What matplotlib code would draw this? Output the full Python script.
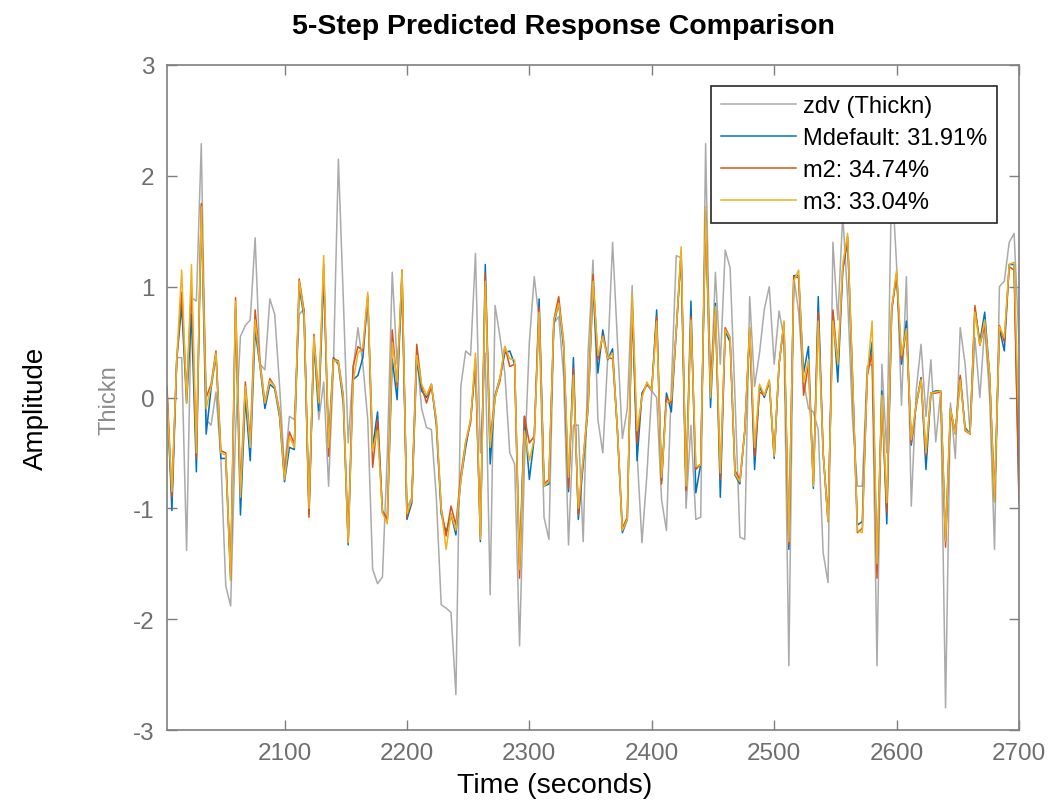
import numpy as np
import matplotlib
matplotlib.use("Agg")
import matplotlib.pyplot as plt

plt.rcParams['font.family'] = ['Liberation Sans', 'DejaVu Sans']
plt.rcParams['axes.unicode_minus'] = False

# sample times (s)
t_start = 2004
t_step = 4

# measured output zdv (Thickn)
zdv = [
    -0.1, -0.9, 0.36, 0.36, -1.38, 0.9, 0.87, 2.29, -0.2, -0.25,
    0.05, -0.55, -1.7, -1.88, -0.3, 0.55, 0.65, 0.7, 1.44, 0.3,
    0.25, 0.89, 0.75, 0.1, -0.65, -0.17, -0.2, 0.75, 0.8, -1.0,
    0.5, -0.2, 0.14, -0.8, 0.3, 2.15, 0.9, -0.41, 0.25, 0.63,
    0.3, -0.2, -1.55, -1.68, -1.62, -0.5, 1.13, 0.3, 0.9, -1.0,
    -0.9, 0.4, -0.1, -0.27, -0.29, -0.9, -1.87, -1.9, -1.94, -2.68,
    0.1, 0.42, 0.38, 1.3, -0.5, 0.4, -1.78, 0.83, 0.55, 0.22,
    -0.5, -0.6, -2.24, -0.6, 0.5, 1.09, 0.7, -1.08, -1.28, 0.67,
    0.73, 0.2, -1.33, -0.25, -0.25, -1.3, 0.4, 1.24, -0.2, -0.5,
    0.35, 1.4, 0.5, -0.37, -0.1, 1.01, -0.5, -1.31, -0.7, 0.06,
    0.0, -0.92, -1.2, 0.1, 1.28, 1.26, -1.0, -0.25, -1.1, -1.08,
    2.29, 0.0, 1.13, 0.3, 1.33, 1.17, 0.0, -1.26, -1.28, 0.91,
    0.1, 0.4, 0.8, 1.0, 0.3, 0.78, 0.54, -2.42, 1.09, 0.77,
    0.15, -0.1, -0.13, -0.29, -1.4, -1.67, 1.4, 0.7, 1.65, 0.9,
    -0.2, -0.8, -0.8, 0.28, 0.3, -2.42, 0.3, -0.5, 2.0, 1.2,
    -0.07, 1.09, -0.98, 0.06, 0.48, -0.17, 0.34, -0.4, 0.05, -2.8,
    -0.05, -0.55, 0.63, 0.3, -0.31, 0.54, 0.0, 0.65, 0.0, -1.37,
    1.0, 1.05, 1.4, 1.48, 0.5,
]

# 5-step predictions
mdefault = [
    0.05, -1.02, 0.35, 0.83, -0.05, 0.75, -0.67, 1.72, -0.33, 0.08,
    0.38, -0.55, -0.55, -1.65, 0.8, -1.06, 0.0, -0.57, 0.61, 0.28,
    -0.1, 0.12, 0.08, -0.18, -0.76, -0.45, -0.47, 1.0, 0.72, -1.05,
    0.5, -0.12, 1.1, -0.4, 0.36, 0.3, -0.05, -1.33, 0.16, 0.2,
    0.36, 0.9, -0.45, -0.13, -1.04, -1.1, 0.35, -0.02, 1.12, -1.1,
    -0.95, 0.34, 0.06, 0.0, 0.12, -0.25, -1.05, -1.22, -1.05, -1.24,
    -0.75, -0.45, -0.2, 0.3, -1.3, 1.2, -0.6, 0.02, 0.18, 0.4,
    0.42, 0.3, -1.5, -0.17, -0.74, -0.37, 0.89, -0.8, -0.78, 0.66,
    0.85, 0.45, -0.85, 0.36, -1.1, -0.6, -0.1, 1.0, 0.22, 0.61,
    0.34, 0.44, -0.32, -1.22, -1.1, 0.85, -0.57, 0.04, 0.12, 0.06,
    0.79, -0.75, 0.04, -0.13, 0.6, 1.3, -0.82, 0.87, -0.86, -0.6,
    1.68, -0.09, 0.85, -0.9, 0.6, 0.5, -0.7, -0.78, -0.3, 0.6,
    -0.65, 0.1, 0.0, 0.14, -0.55, 0.3, 0.66, -1.37, 1.1, 1.1,
    0.22, 0.46, -0.82, 0.91, -0.5, -1.12, 0.77, 0.14, 1.15, 1.42,
    0.15, -1.15, -1.12, 0.2, 0.5, -1.55, 0.06, -1.14, 0.8, 1.1,
    0.3, 0.69, -0.43, -0.06, 0.18, -0.65, 0.04, 0.06, 0.06, -1.3,
    -0.1, -0.33, 0.18, -0.27, -0.33, 0.8, 0.5, 0.77, 0.2, -0.94,
    0.62, 0.42, 1.2, 1.2, -0.9,
]
m2 = [
    0.1, -0.9, 0.35, 0.95, 0.03, 1.0, -0.55, 1.75, 0.0, 0.12,
    0.42, -0.48, -0.5, -1.6, 0.9, -0.82, 0.14, -0.4, 0.79, 0.32,
    -0.05, 0.17, 0.1, -0.13, -0.7, -0.31, -0.42, 1.07, 0.78, -1.08,
    0.57, -0.02, 1.2, -0.53, 0.35, 0.33, 0.02, -1.3, 0.28, 0.46,
    0.42, 0.92, -0.63, -0.2, -1.02, -1.1, 0.61, 0.1, 1.15, -1.08,
    -0.92, 0.48, 0.1, -0.05, 0.1, -0.2, -1.0, -1.25, -0.98, -1.15,
    -0.7, -0.4, -0.23, 0.35, -1.25, 1.12, -0.37, 0.0, 0.15, 0.46,
    0.28, 0.3, -1.63, -0.17, -0.41, -0.35, 0.82, -0.78, -0.74, 0.7,
    0.91, 0.5, -0.82, 0.26, -1.06, -0.55, -0.05, 1.11, 0.34, 0.56,
    0.36, 0.35, -0.3, -1.18, -1.08, 0.83, -0.41, 0.02, 0.12, 0.08,
    0.73, -0.78, 0.0, -0.05, 0.6, 1.32, -0.84, 0.73, -0.65, -0.6,
    1.64, 0.15, 0.78, -0.74, 0.63, 0.54, -0.66, -0.74, -0.3, 0.63,
    -0.53, 0.05, 0.02, 0.15, -0.53, 0.3, 0.68, -1.33, 1.09, 1.08,
    0.02, 0.3, -0.78, 0.77, -0.5, -1.1, 0.79, 0.3, 1.15, 1.45,
    0.2, -1.22, -1.18, 0.2, 0.4, -1.63, 0.0, -1.04, 0.78, 1.12,
    0.34, 0.6, -0.41, -0.08, 0.17, -0.53, 0.04, 0.04, 0.05, -1.35,
    -0.14, -0.31, 0.2, -0.3, -0.33, 0.83, 0.47, 0.65, 0.2, -0.92,
    0.65, 0.5, 1.18, 1.15, -0.95,
]
m3 = [
    0.0, -0.85, 0.35, 1.15, -0.05, 1.2, -0.5, 1.72, -0.1, 0.1,
    0.4, -0.5, -0.52, -1.65, 0.87, -0.9, 0.1, -0.45, 0.7, 0.3,
    -0.05, 0.15, 0.1, -0.15, -0.74, -0.35, -0.45, 1.05, 0.75, -1.0,
    0.55, -0.05, 1.28, -0.45, 0.34, 0.32, 0.0, -1.31, 0.14, 0.4,
    0.45, 0.95, -0.48, -0.3, -1.04, -1.14, 0.5, 0.14, 1.15, -1.05,
    -0.92, 0.38, 0.12, 0.02, 0.12, -0.21, -1.0, -1.37, -1.05, -1.2,
    -0.75, -0.4, -0.2, 0.4, -1.28, 1.05, -0.45, 0.0, 0.18, 0.46,
    0.35, 0.34, -1.55, -0.3, -0.57, -0.37, 0.77, -0.8, -0.76, 0.69,
    0.85, 0.5, -0.72, 0.2, -1.0, -0.55, -0.09, 1.05, 0.38, 0.55,
    0.35, 0.4, -0.3, -1.2, -1.1, 0.93, -0.3, 0.0, 0.14, 0.06,
    0.69, -0.72, -0.05, -0.02, 0.6, 1.36, -0.8, 0.7, -0.62, -0.61,
    1.72, 0.0, 0.82, -0.68, 0.61, 0.54, -0.69, -0.76, -0.3, 0.63,
    -0.45, 0.12, 0.02, 0.16, -0.53, 0.3, 0.69, -1.3, 1.05, 1.15,
    0.14, 0.34, -0.8, 0.69, -0.5, -1.12, 0.69, 0.3, 1.2, 1.48,
    0.2, -1.2, -1.22, 0.2, 0.69, -1.5, 0.02, -0.95, 0.81, 1.15,
    0.38, 0.62, -0.38, -0.06, 0.16, -0.5, 0.04, 0.05, 0.06, -1.3,
    -0.1, -0.33, 0.16, -0.29, -0.33, 0.77, 0.47, 0.7, 0.2, -0.94,
    0.64, 0.54, 1.2, 1.22, -0.3,
]

labels = ['zdv (Thickn)', 'Mdefault: 31.91%', 'm2: 34.74%', 'm3: 33.04%']
colors = ['#aaaaaa', '#0072BD', '#D95319', '#EDB120']

t = t_start + t_step * np.arange(len(zdv))

W, H = 1054, 804
fig = plt.figure(figsize=(W / 100, H / 100), dpi=100)
ax = fig.add_axes([167 / W, 1 - 731 / H, 852 / W, 665 / H])

for y, c, lab in zip([zdv, mdefault, m2, m3], colors, labels):
    ax.plot(t, y, color=c, linewidth=1.1, label=lab)

ax.set_xlim(t_start, 2700)
ax.set_ylim(-3, 3)
ax.set_xticks([2100, 2200, 2300, 2400, 2500, 2600, 2700])
ax.set_yticks([-3, -2, -1, 0, 1, 2, 3])
axis_gray = '#7f7f7f'
ax.tick_params(direction='in', length=7, width=1, colors=axis_gray,
               labelcolor='#6e6e6e', labelsize=17.5, top=True, right=True)
ax.tick_params(axis='x', pad=9)
ax.tick_params(axis='y', pad=9)
for s in ax.spines.values():
    s.set_color(axis_gray)
    s.set_linewidth(1.2)

leg = ax.legend(loc='upper right', bbox_to_anchor=(997 / W, 1 - 87 / H),
                bbox_transform=fig.transFigure, fontsize=17, frameon=True,
                fancybox=False, framealpha=1, edgecolor='#262626',
                handlelength=3.2, handletextpad=0.3, borderpad=0.4,
                labelspacing=0.42, borderaxespad=0)
leg.get_frame().set_linewidth(1.2)

fig.text(563 / W, 1 - 27 / H, '5-Step Predicted Response Comparison',
         ha='center', va='center', fontsize=20.5, fontweight='bold')
fig.text(555 / W, 1 - 786 / H, 'Time (seconds)', ha='center', va='center',
         fontsize=20.5)
fig.text(36 / W, 1 - 408 / H, 'Amplitude', ha='center', va='center',
         fontsize=20, rotation=90)
fig.text(110 / W, 1 - 400 / H, 'Thickn', ha='center', va='center',
         fontsize=17, rotation=90, color='#8c8c8c')

fig.savefig('out.png', dpi=100)
